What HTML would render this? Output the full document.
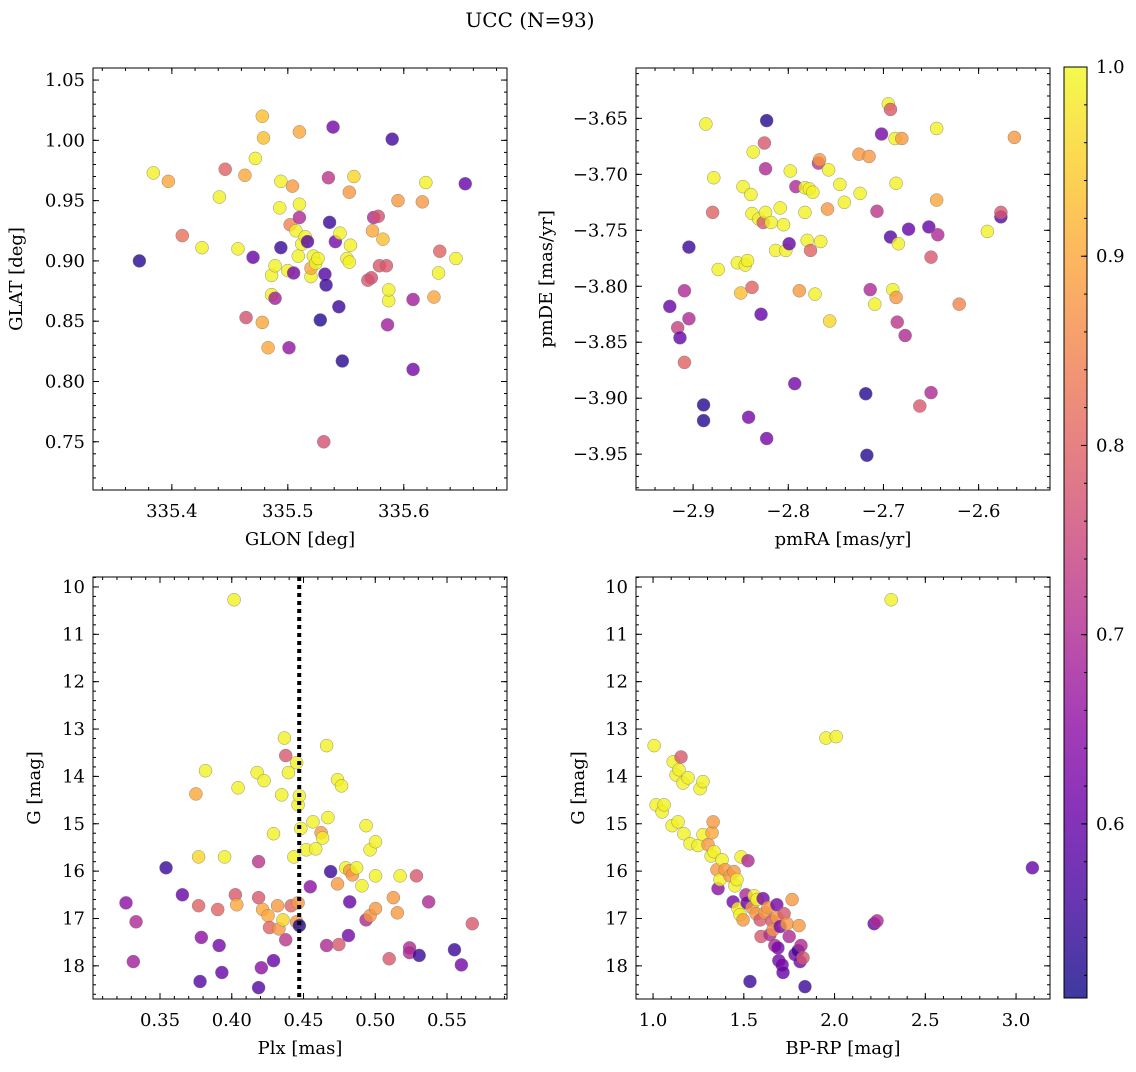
<!DOCTYPE html>
<html><head><meta charset="utf-8"><style>
html,body{margin:0;padding:0;background:#fff;}
svg text{font-family:"DejaVu Serif","Liberation Serif",serif;fill:#000;}
</style></head><body>
<svg id="fig" width="1136" height="1067" xmlns="http://www.w3.org/2000/svg">
<text x="530" y="27" font-size="20" text-anchor="middle">UCC (N=93)</text>
</svg>
<script>
// ---- Panel 1: GLON vs GLAT ----
const p1_glon=[335.372,335.384,335.397,335.409,335.426,335.441,335.446,335.457,335.464,335.463,335.470,335.472,335.478,335.479,335.478,335.483,335.486,335.489,335.486,335.489,335.494,335.494,335.493,335.500,335.501,335.504,335.502,335.505,335.507,335.509,335.510,335.510,335.510,335.512,335.515,335.517,335.520,335.520,335.522,335.524,335.526,335.528,335.531,335.532,335.533,335.535,335.536,335.539,335.541,335.544,335.545,335.547,335.551,335.553,335.553,335.554,335.557,335.569,335.572,335.573,335.574,335.578,335.579,335.582,335.585,335.587,335.587,335.586,335.590,335.595,335.608,335.608,335.616,335.619,335.626,335.631,335.630,335.645,335.653];
const p1_glat=[0.900,0.973,0.966,0.921,0.911,0.953,0.976,0.910,0.853,0.971,0.903,0.985,1.020,1.002,0.849,0.828,0.888,0.896,0.872,0.869,0.911,0.966,0.944,0.892,0.828,0.962,0.930,0.890,0.925,0.904,1.007,0.947,0.936,0.914,0.920,0.916,0.887,0.894,0.904,0.898,0.902,0.851,0.750,0.889,0.880,0.969,0.932,1.011,0.916,0.862,0.923,0.817,0.902,0.899,0.957,0.913,0.970,0.884,0.886,0.925,0.936,0.937,0.896,0.918,0.896,0.867,0.876,0.847,1.001,0.950,0.868,0.810,0.949,0.965,0.870,0.908,0.890,0.902,0.964];
const p1_prob=[0.53,0.99,0.9,0.82,0.99,0.99,0.8,0.99,0.77,0.9,0.6,0.99,0.93,0.93,0.9,0.9,0.99,0.99,0.99,0.68,0.55,0.99,0.99,0.99,0.66,0.88,0.85,0.62,0.99,0.99,0.9,0.99,0.7,0.99,0.99,0.58,0.99,0.9,0.99,0.99,0.99,0.53,0.77,0.58,0.55,0.72,0.55,0.62,0.62,0.55,0.99,0.53,0.99,0.99,0.88,0.99,0.96,0.78,0.77,0.9,0.7,0.77,0.78,0.93,0.78,0.99,0.99,0.68,0.56,0.88,0.68,0.62,0.88,0.99,0.9,0.8,0.99,0.99,0.6];
// ---- Panel 2: pmRA vs pmDE ----
const p2_pmra=[-2.9245,-2.9162,-2.9138,-2.9091,-2.9091,-2.9044,-2.9044,-2.8890,-2.8890,-2.8866,-2.8783,-2.8795,-2.8736,-2.8535,-2.8499,-2.8476,-2.8452,-2.8428,-2.8417,-2.8393,-2.8381,-2.8381,-2.8369,-2.8310,-2.8286,-2.8263,-2.8239,-2.8251,-2.8227,-2.8227,-2.8239,-2.8180,-2.8133,-2.8085,-2.8050,-2.8026,-2.7991,-2.7932,-2.7979,-2.7920,-2.7884,-2.7825,-2.7801,-2.7825,-2.7778,-2.7742,-2.7766,-2.7719,-2.7683,-2.7671,-2.7659,-2.7588,-2.7576,-2.7565,-2.7458,-2.7411,-2.7257,-2.7245,-2.7186,-2.7174,-2.7151,-2.7139,-2.7091,-2.7068,-2.7020,-2.6949,-2.6926,-2.6926,-2.6902,-2.6878,-2.6867,-2.6867,-2.6843,-2.6855,-2.6807,-2.6772,-2.6736,-2.6618,-2.6523,-2.6500,-2.6500,-2.6441,-2.6441,-2.6429,-2.6204,-2.5908,-2.5766,-2.5766,-2.5624];
const p2_pmde=[-3.818,-3.837,-3.846,-3.804,-3.868,-3.829,-3.765,-3.906,-3.920,-3.655,-3.703,-3.734,-3.785,-3.779,-3.806,-3.711,-3.781,-3.777,-3.917,-3.718,-3.801,-3.735,-3.680,-3.740,-3.825,-3.743,-3.734,-3.672,-3.652,-3.936,-3.695,-3.743,-3.768,-3.730,-3.745,-3.768,-3.762,-3.887,-3.697,-3.711,-3.804,-3.734,-3.759,-3.712,-3.713,-3.716,-3.768,-3.807,-3.690,-3.687,-3.760,-3.731,-3.696,-3.831,-3.709,-3.725,-3.682,-3.717,-3.896,-3.951,-3.684,-3.803,-3.816,-3.733,-3.664,-3.637,-3.642,-3.756,-3.803,-3.668,-3.708,-3.810,-3.762,-3.832,-3.668,-3.844,-3.749,-3.907,-3.747,-3.774,-3.895,-3.659,-3.723,-3.754,-3.816,-3.751,-3.738,-3.734,-3.667];
const p2_prob=[0.6,0.74,0.6,0.7,0.8,0.7,0.55,0.53,0.53,0.99,0.99,0.8,0.99,0.99,0.93,0.99,0.99,0.99,0.62,0.99,0.8,0.99,0.99,0.99,0.6,0.78,0.99,0.78,0.53,0.62,0.7,0.99,0.99,0.99,0.99,0.99,0.6,0.62,0.99,0.7,0.88,0.99,0.99,0.99,0.99,0.99,0.8,0.99,0.72,0.88,0.99,0.88,0.99,0.96,0.99,0.99,0.88,0.99,0.53,0.53,0.88,0.7,0.99,0.72,0.62,0.99,0.78,0.58,0.99,0.99,0.99,0.88,0.99,0.72,0.88,0.7,0.6,0.78,0.6,0.78,0.7,0.99,0.9,0.7,0.85,0.99,0.58,0.78,0.88];
// ---- Panel 3: Plx vs G ----
const p3_plx=[0.3263,0.3333,0.3314,0.3542,0.3656,0.3750,0.3769,0.3769,0.3788,0.3779,0.3817,0.3902,0.3912,0.3950,0.3931,0.4016,0.4025,0.4035,0.4044,0.4177,0.4187,0.4187,0.4187,0.4206,0.4225,0.4215,0.4253,0.4263,0.4291,0.4291,0.4319,0.4329,0.4348,0.4357,0.4367,0.4376,0.4376,0.4395,0.4414,0.4433,0.4452,0.4452,0.4462,0.4471,0.4462,0.4471,0.4481,0.4519,0.4547,0.4566,0.4585,0.4623,0.4633,0.4661,0.4670,0.4661,0.4689,0.4737,0.4737,0.4746,0.4765,0.4794,0.4813,0.4822,0.4822,0.4841,0.4870,0.4907,0.4936,0.4936,0.4964,0.4964,0.5002,0.5002,0.5002,0.5097,0.5126,0.5154,0.5173,0.5239,0.5239,0.5287,0.5306,0.5372,0.5552,0.5600,0.5676];
const p3_g=[16.67,17.07,17.91,15.93,16.50,14.37,15.70,16.73,17.40,18.33,13.88,16.81,17.57,15.70,18.14,10.27,16.50,16.71,14.24,13.92,18.46,15.80,16.56,18.04,14.09,16.81,16.94,17.19,15.21,17.89,16.73,17.22,14.39,17.03,13.19,17.45,13.56,13.92,16.73,15.70,17.07,13.71,14.60,14.41,16.67,17.15,15.10,15.55,16.33,14.96,15.53,15.19,15.30,13.35,14.87,17.57,16.01,16.27,14.07,17.55,14.20,15.93,17.36,16.65,15.99,16.08,15.93,16.31,15.04,17.03,15.55,16.94,16.79,15.38,16.10,17.85,16.56,16.88,16.10,17.62,17.72,16.10,17.78,16.65,17.66,17.98,17.11];
const p3_prob=[0.65,0.7,0.68,0.55,0.6,0.9,0.96,0.8,0.65,0.58,0.99,0.8,0.62,0.99,0.6,0.99,0.78,0.9,0.99,0.99,0.58,0.72,0.78,0.65,0.99,0.9,0.9,0.8,0.99,0.6,0.88,0.88,0.99,0.96,0.99,0.72,0.78,0.99,0.8,0.99,0.88,0.99,0.99,0.99,0.88,0.53,0.99,0.99,0.65,0.99,0.99,0.88,0.99,0.99,0.99,0.7,0.55,0.88,0.99,0.78,0.99,0.99,0.62,0.6,0.88,0.88,0.99,0.99,0.99,0.7,0.99,0.88,0.88,0.99,0.99,0.78,0.88,0.88,0.99,0.7,0.7,0.78,0.55,0.7,0.55,0.62,0.78];
// ---- Panel 4: BP-RP vs G ----
const p4_bprp=[1.006,1.017,1.050,1.061,1.105,1.111,1.127,1.138,1.143,1.154,1.165,1.170,1.193,1.204,1.248,1.259,1.275,1.275,1.303,1.320,1.325,1.331,1.336,1.352,1.358,1.369,1.380,1.397,1.424,1.441,1.446,1.451,1.462,1.468,1.479,1.485,1.496,1.512,1.518,1.534,1.523,1.545,1.557,1.568,1.573,1.590,1.595,1.606,1.617,1.633,1.644,1.655,1.661,1.682,1.682,1.671,1.688,1.693,1.700,1.711,1.716,1.722,1.738,1.750,1.766,1.782,1.799,1.804,1.810,1.815,1.826,1.837,1.953,2.009,2.218,2.234,2.312,3.090];
const p4_g=[13.35,14.60,14.75,14.60,15.04,13.69,13.97,14.96,13.86,13.59,14.14,15.21,14.03,15.42,15.46,14.26,14.11,15.23,15.44,15.68,15.19,14.96,15.59,15.97,16.37,16.18,15.76,15.97,16.10,16.65,16.01,16.31,16.18,16.79,16.92,15.70,17.03,16.50,16.67,18.33,15.78,16.77,16.52,16.90,16.60,17.03,17.38,16.58,16.88,16.77,17.34,17.05,17.24,16.71,16.98,17.57,17.62,17.89,17.17,17.98,18.14,16.90,17.11,17.38,16.60,17.76,17.68,17.15,17.91,17.57,17.83,18.44,13.19,13.16,17.11,17.05,10.27,15.93];
const p4_prob=[0.99,0.99,0.99,0.99,0.99,0.99,0.99,0.99,0.99,0.78,0.99,0.99,0.99,0.99,0.99,0.99,0.99,0.99,0.88,0.99,0.9,0.88,0.99,0.88,0.65,0.99,0.99,0.88,0.88,0.62,0.88,0.99,0.99,0.99,0.99,0.99,0.88,0.7,0.6,0.55,0.7,0.88,0.99,0.88,0.99,0.78,0.78,0.62,0.88,0.88,0.7,0.78,0.88,0.62,0.88,0.7,0.62,0.62,0.62,0.62,0.6,0.78,0.88,0.7,0.88,0.62,0.55,0.88,0.62,0.7,0.78,0.55,0.99,0.99,0.6,0.7,0.99,0.6];
// ---- tick labels ----
const p1_xticks=[335.4,335.5,335.6], p1_yticks=[0.75,0.80,0.85,0.90,0.95,1.00,1.05];
const p2_xticks=[-2.9,-2.8,-2.7,-2.6], p2_yticks=[-3.95,-3.90,-3.85,-3.80,-3.75,-3.70,-3.65];
const p3_xticks=[0.35,0.40,0.45,0.50,0.55], p3_yticks=[10,11,12,13,14,15,16,17,18];
const p4_xticks=[1.0,1.5,2.0,2.5,3.0], p4_yticks=[10,11,12,13,14,15,16,17,18];
const cb_ticks=[0.6,0.7,0.8,0.9,1.0];
const plx_line=0.447;

const NS='http://www.w3.org/2000/svg';
const svg=document.getElementById('fig');
const FS=18;
function mk(tag,attrs,parent){const e=document.createElementNS(NS,tag);for(const k in attrs)e.setAttribute(k,attrs[k]);(parent||svg).appendChild(e);return e;}
const stops=[[13,8,135],[65,4,157],[106,0,168],[143,13,164],[177,42,144],[204,71,120],[225,100,98],[242,132,75],[252,166,54],[252,206,37],[240,249,33]];
const PMIN=0.508,PMAX=1.0;
function plasma(p){let t=Math.max(0,Math.min(1,(p-PMIN)/(PMAX-PMIN)))*10;let i=Math.min(9,Math.floor(t)),f=t-i;const a=stops[i],b=stops[i+1];return 'rgb('+a.map((v,k)=>Math.round(v+(b[k]-v)*f)).join(',')+')';}
function fmt(v,d){return (v<0?'\u2212':'')+Math.abs(v).toFixed(d);}

function panel(cfg,xs,ys,ps){
  const {L,T,W,H,x0,x1,y0,y1,inv}=cfg;
  const sx=v=>L+(v-x0)/(x1-x0)*W;
  const sy=v=>inv?T+(v-y0)/(y1-y0)*H:T+H-(v-y0)/(y1-y0)*H;
  const g=mk('g',{});
  
  
  const pts=mk('g',{},g);
  
  
  for(let i=0;i<xs.length;i++){
    const c=mk('circle',{cx:sx(xs[i]),cy:sy(ys[i]),r:6.5,fill:plasma(ps[i]),'fill-opacity':0.8,stroke:'#777','stroke-width':0.5,'stroke-opacity':0.8},pts);
    
    
  }
  if(cfg.vline!==undefined){
    const l=mk('line',{x1:sx(cfg.vline),x2:sx(cfg.vline),y1:T,y2:T+H,stroke:'#000','stroke-width':4,'stroke-dasharray':'4,4'},g);
    
    
  }
  const fr=mk('rect',{x:L,y:T,width:W,height:H,fill:'none',stroke:'#000','stroke-width':1},g);
  
  
  const tk=mk('g',{stroke:'#000','stroke-width':1},g);
  const xmin=Math.min(x0,x1),xmax=Math.max(x0,x1),ymin=Math.min(y0,y1),ymax=Math.max(y0,y1);
  for(let v=Math.ceil(xmin/cfg.xm-1e-6)*cfg.xm;v<=xmax+1e-9;v+=cfg.xm){const X=sx(v);mk('line',{x1:X,x2:X,y1:T+H,y2:T+H-3},tk);mk('line',{x1:X,x2:X,y1:T,y2:T+3},tk);}
  for(let v=Math.ceil(ymin/cfg.ym-1e-6)*cfg.ym;v<=ymax+1e-9;v+=cfg.ym){const Y=sy(v);mk('line',{x1:L,x2:L+3,y1:Y,y2:Y},tk);mk('line',{x1:L+W,x2:L+W-3,y1:Y,y2:Y},tk);}
  cfg.xt.forEach(v=>{const X=sx(v);mk('line',{x1:X,x2:X,y1:T+H,y2:T+H-6},tk);mk('line',{x1:X,x2:X,y1:T,y2:T+6},tk);
    const t=mk('text',{x:X,y:T+H+27,'font-size':FS,'text-anchor':'middle'},g);t.textContent=fmt(v,cfg.xd);
    });
  cfg.yt.forEach(v=>{const Y=sy(v);mk('line',{x1:L,x2:L+6,y1:Y,y2:Y},tk);mk('line',{x1:L+W,x2:L+W-6,y1:Y,y2:Y},tk);
    const t=mk('text',{x:L-8,y:Y+6,'font-size':FS,'text-anchor':'end'},g);t.textContent=fmt(v,cfg.yd);
    });
  const xl=mk('text',{x:L+W/2,y:T+H+55,'font-size':FS,'text-anchor':'middle'},g);xl.textContent=cfg.xlab;
  
  const yl=mk('text',{x:0,y:0,'font-size':FS,'text-anchor':'middle',transform:'translate('+cfg.ylx+','+(T+H/2)+') rotate(-90)'},g);yl.textContent=cfg.ylab;
  
}
panel({name:'glon-glat-panel',L:93,T:68,W:414,H:422,x0:335.332,x1:335.689,y0:0.710,y1:1.060,xm:0.02,ym:0.01,xt:p1_xticks,yt:p1_yticks,xd:1,yd:2,xlab:'GLON [deg]',ylab:'GLAT [deg]',ylx:22},p1_glon,p1_glat,p1_prob);
panel({name:'pm-panel',L:636,T:68,W:414,H:422,x0:-2.960,x1:-2.525,y0:-3.982,y1:-3.605,xm:0.02,ym:0.01,xt:p2_xticks,yt:p2_yticks,xd:1,yd:2,xlab:'pmRA [mas/yr]',ylab:'pmDE [mas/yr]',ylx:552},p2_pmra,p2_pmde,p2_prob);
panel({name:'plx-g-panel',L:93,T:577,W:414,H:422,x0:0.3033,x1:0.5918,y0:9.79,y1:18.70,inv:true,xm:0.01,ym:0.2,xt:p3_xticks,yt:p3_yticks,xd:2,yd:0,xlab:'Plx [mas]',ylab:'G [mag]',ylx:40,vline:plx_line},p3_plx,p3_g,p3_prob);
panel({name:'cmd-panel',L:636,T:577,W:414,H:422,x0:0.906,x1:3.187,y0:9.79,y1:18.70,inv:true,xm:0.1,ym:0.2,xt:p4_xticks,yt:p4_yticks,xd:1,yd:0,xlab:'BP-RP [mag]',ylab:'G [mag]',ylx:584},p4_bprp,p4_g,p4_prob);

// colorbar
const cb=mk('g',{});


const defs=mk('defs',{},cb);
const lg=mk('linearGradient',{id:'pl',x1:0,y1:1,x2:0,y2:0},defs);
for(let i=0;i<=10;i++){mk('stop',{offset:i/10,'stop-color':'rgb('+stops[i].join(',')+')'},lg);}
const CL=1064,CT=67,CW=23,CH=931;
mk('rect',{x:CL,y:CT,width:CW,height:CH,fill:'url(#pl)','fill-opacity':0.8},cb);
mk('rect',{x:CL,y:CT,width:CW,height:CH,fill:'none',stroke:'#000','stroke-width':1},cb);
const cy=v=>CT+CH-(v-PMIN)/(PMAX-PMIN)*CH;
for(let v=0.52;v<=1.0001;v+=0.02){mk('line',{x1:CL+CW,x2:CL+CW-3,y1:cy(v),y2:cy(v),stroke:'#000'},cb);}
cb_ticks.forEach(v=>{mk('line',{x1:CL+CW,x2:CL+CW-6,y1:cy(v),y2:cy(v),stroke:'#000'},cb);
  const t=mk('text',{x:CL+CW+9,y:cy(v)+6,'font-size':FS},cb);t.textContent=v.toFixed(1);
  });
</script>
</body></html>
